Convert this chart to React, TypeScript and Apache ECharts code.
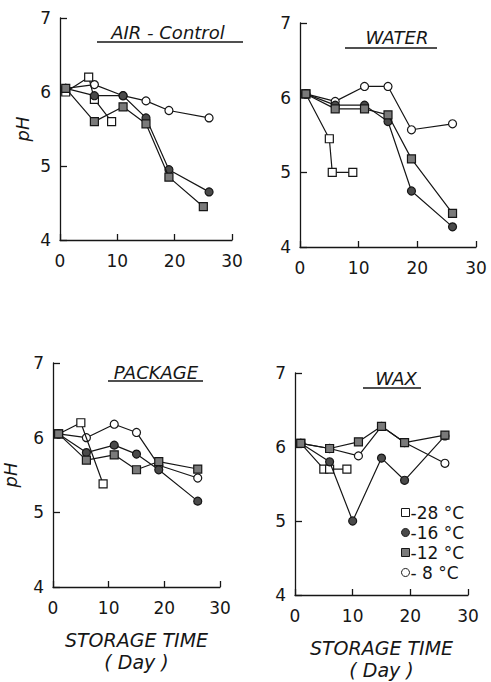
import React, { useEffect, useRef } from "react";
import * as echarts from "echarts";

// ---- data (day, pH) ----
const seriesNames = ["28 °C", "16 °C", "12 °C", "8 °C"];
const legendLabels = ["-28 °C", "-16 °C", "-12 °C", "- 8 °C"];
const panelTitles = ["AIR - Control", "WATER", "PACKAGE", "WAX"];

// AIR - Control
const air28Days = [1, 5, 6, 9];
const air28 = [6.0, 6.2, 5.9, 5.6];
const air16Days = [1, 6, 11, 15, 19, 26];
const air16 = [6.05, 5.95, 5.95, 5.65, 4.95, 4.65];
const air12Days = [1, 6, 11, 15, 19, 25];
const air12 = [6.05, 5.6, 5.8, 5.57, 4.85, 4.45];
const air8Days = [1, 6, 11, 15, 19, 26];
const air8 = [6.05, 6.1, 5.95, 5.88, 5.75, 5.65];

// WATER
const water28Days = [1, 5, 5.5, 9];
const water28 = [6.05, 5.45, 5.0, 5.0];
const water16Days = [1, 6, 11, 15, 19, 26];
const water16 = [6.05, 5.9, 5.9, 5.68, 4.75, 4.27];
const water12Days = [1, 6, 11, 15, 19, 26];
const water12 = [6.05, 5.85, 5.85, 5.77, 5.18, 4.45];
const water8Days = [1, 6, 11, 15, 19, 26];
const water8 = [6.05, 5.95, 6.15, 6.15, 5.57, 5.65];

// PACKAGE
const pack28Days = [1, 5, 9];
const pack28 = [6.05, 6.2, 5.38];
const pack16Days = [1, 6, 11, 15, 19, 26];
const pack16 = [6.05, 5.8, 5.9, 5.78, 5.57, 5.15];
const pack12Days = [1, 6, 11, 15, 19, 26];
const pack12 = [6.05, 5.7, 5.77, 5.57, 5.68, 5.58];
const pack8Days = [1, 6, 11, 15, 19, 26];
const pack8 = [6.05, 6.0, 6.18, 6.07, 5.63, 5.46];

// WAX
const wax28Days = [1, 5, 6, 9];
const wax28 = [6.05, 5.7, 5.7, 5.7];
const wax16Days = [1, 6, 10, 15, 19, 26];
const wax16 = [6.05, 5.8, 5.0, 5.85, 5.55, 6.15];
const wax12Days = [1, 6, 11, 15, 19, 26];
const wax12 = [6.05, 5.98, 6.07, 6.28, 6.06, 6.16];
const wax8Days = [1, 6, 11, 15, 19, 26];
const wax8 = [6.05, 5.98, 5.88, 6.28, 6.06, 5.78];

const panelData = [
  [[air28Days, air28], [air16Days, air16], [air12Days, air12], [air8Days, air8]],
  [[water28Days, water28], [water16Days, water16], [water12Days, water12], [water8Days, water8]],
  [[pack28Days, pack28], [pack16Days, pack16], [pack12Days, pack12], [pack8Days, pack8]],
  [[wax28Days, wax28], [wax16Days, wax16], [wax12Days, wax12], [wax8Days, wax8]],
];

const zip = (xs: number[], ys: number[]) => xs.map((x, i) => [x, ys[i]]);

const FONT = "DejaVu Sans";
const INK = "#161616";

const symbolStyles = [
  { symbol: "rect", color: "#ffffff", z: 3 },
  { symbol: "circle", color: "#4a4a4a", z: 4 },
  { symbol: "rect", color: "#7a7a7a", z: 5 },
  { symbol: "circle", color: "#ffffff", z: 2 },
];

const grids = [
  { left: 60, top: 18, width: 172, height: 222 },
  { left: 300, top: 23, width: 176, height: 224 },
  { left: 52, top: 363, width: 168, height: 224 },
  { left: 295, top: 373, width: 173, height: 222 },
];

export default function App() {
  const ref = useRef<HTMLDivElement>(null);
  useEffect(() => {
    if (!ref.current) return;
    const chart = echarts.init(ref.current, undefined, { renderer: "svg" });

    const xAxis = grids.map((_, i) => ({
      type: "value",
      gridIndex: i,
      min: 0,
      max: 30,
      interval: 10,
      axisLine: { show: true, lineStyle: { color: INK, width: 1.3 } },
      axisTick: { show: true, inside: true, length: 6, lineStyle: { color: INK, width: 1.3 } },
      axisLabel: { color: INK, fontSize: 17, fontFamily: FONT, margin: 12 },
      splitLine: { show: false },
      name: i >= 2 ? "STORAGE TIME\n( Day )" : "",
      nameLocation: "middle",
      nameGap: 42,
      nameTextStyle: { color: INK, fontSize: 19, fontStyle: "italic", fontFamily: FONT, lineHeight: 22 },
    }));

    const yAxis = grids.map((_, i) => ({
      type: "value",
      gridIndex: i,
      min: 4,
      max: 7,
      interval: 1,
      axisLine: { show: true, lineStyle: { color: INK, width: 1.3 } },
      axisTick: { show: true, inside: true, length: 7, lineStyle: { color: INK, width: 1.3 } },
      axisLabel: { color: INK, fontSize: 17, fontFamily: FONT, margin: 9 },
      splitLine: { show: false },
      name: i % 2 === 0 ? "pH" : "",
      nameLocation: "middle",
      nameRotate: 90,
      nameGap: i === 0 ? 29 : 34,
      nameTextStyle: { color: INK, fontSize: 18, fontStyle: "italic", fontFamily: FONT },
    }));

    const series: any[] = [];
    panelData.forEach((panel, pi) => {
      panel.forEach(([days, vals], si) => {
        series.push({
          type: "line",
          name: seriesNames[si],
          xAxisIndex: pi,
          yAxisIndex: pi,
          data: zip(days as number[], vals as number[]),
          symbol: symbolStyles[si].symbol,
          symbolSize: 8,
          lineStyle: { color: INK, width: 1.2 },
          itemStyle: { color: symbolStyles[si].color, borderColor: INK, borderWidth: 1.2 },
          z: symbolStyles[si].z,
        });
      });
    });

    const titlePos = [
      { x: 168, y: 32, l: 97, r: 243, u: 42 },
      { x: 397, y: 37, l: 345, r: 437, u: 48 },
      { x: 156, y: 372, l: 108, r: 203, u: 381 },
      { x: 396, y: 378, l: 363, r: 421, u: 388 },
    ];
    const graphic: any[] = [];
    titlePos.forEach((p, i) => {
      graphic.push({
        type: "text",
        x: p.x,
        y: p.y,
        style: {
          text: panelTitles[i],
          fill: INK,
          font: `italic 18px "${FONT}"`,
          align: "center",
          verticalAlign: "middle",
        },
      });
      graphic.push({
        type: "line",
        shape: { x1: p.l, y1: p.u, x2: p.r, y2: p.u },
        style: { stroke: INK, lineWidth: 1.5 },
      });
    });

    chart.setOption({
      animation: false,
      backgroundColor: "#ffffff",
      grid: grids,
      xAxis,
      yAxis,
      series,
      graphic,
      legend: {
        orient: "vertical",
        left: 396,
        top: 499,
        itemWidth: 8,
        itemHeight: 8,
        itemGap: 3,
        textStyle: { color: INK, fontSize: 17, fontFamily: FONT, padding: [0, 0, 0, -4] },
        formatter: (n: string) => legendLabels[seriesNames.indexOf(n)],
        data: seriesNames.map((n, i) => ({
          name: n,
          icon: symbolStyles[i].symbol,
          itemStyle: { color: symbolStyles[i].color, borderColor: INK, borderWidth: 1 },
        })),
      },
    });
    return () => chart.dispose();
  }, []);
  return (
    <div
      ref={ref}
      style={{ position: "fixed", left: 0, top: 0, width: 491, height: 682, background: "#fff" }}
    />
  );
}
